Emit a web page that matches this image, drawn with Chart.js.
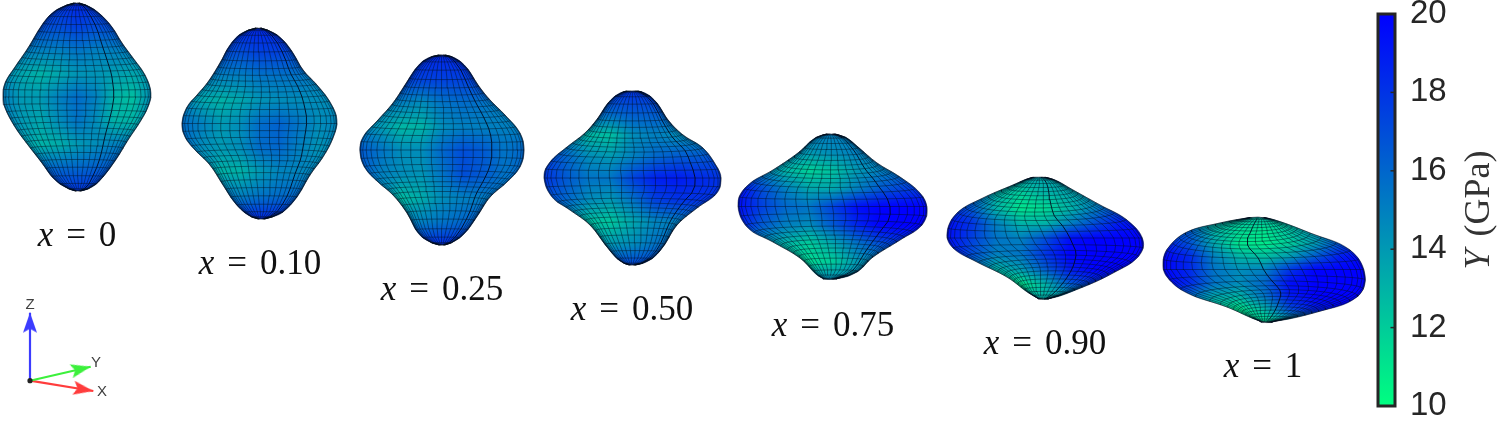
<!DOCTYPE html>
<html><head><meta charset="utf-8">
<style>html,body{margin:0;padding:0;background:#fff;overflow:hidden}
canvas{position:absolute;top:0}</style>
<script src="https://cdn.jsdelivr.net/npm/chart.js@4/dist/chart.umd.min.js"></script>
</head><body>
<canvas id="main" width="1370" height="422" style="left:0;width:1370px;height:422px"></canvas>
<canvas id="bar" width="129" height="422" style="left:1370px;width:129px;height:422px"></canvas>
<script>
const compositions = ['0','0.10','0.25','0.50','0.75','0.90','1'];
const labelCenterX = [77,260,442,632,833,1045,1263];
const labelBaseY = [246,274,300,320,336,354,377];
const colorTicks = [10,12,14,16,18,20];

const outline0=[[76,3],[88,6],[100,14],[112,27],[122,43],[133,58],[145,75],[151,93],[148,107],[140,122],[128,140],[117,158],[103,177],[92,187],[78,191],[65,187],[53,178],[42,163],[28,145],[15,127],[5,108],[3,97],[5,83],[15,67],[28,48],[40,28],[50,15],[62,7]];
const outline1=[[258,28],[272,32],[283,40],[293,53],[303,70],[317,85],[330,102],[337,120],[333,138],[323,157],[310,175],[297,197],[283,212],[272,217],[260,219],[248,215],[235,203],[223,185],[210,165],[195,150],[185,137],[182,123],[187,107],[197,95],[208,82],[220,63],[230,45],[242,33]];
const outline2=[[442,55],[455,58],[467,68],[478,85],[490,100],[505,115],[520,133],[524,150],[520,167],[507,182],[490,197],[478,215],[465,233],[453,242],[442,245],[430,242],[418,233],[407,213],[393,195],[378,182],[365,168],[360,152],[363,137],[378,120],[393,103],[405,85],[417,67],[428,58]];
const outline3=[[632,91],[645,93],[657,103],[668,120],[683,135],[703,148],[717,167],[721,178],[717,193],[697,208],[677,225],[663,247],[650,260],[633,265],[620,261],[607,247],[590,225],[570,210],[552,197],[544,177],[550,162],[567,147],[585,133],[598,118],[608,103],[620,93]];
const outline4=[[830,134],[845,137],[858,147],[877,163],[900,177],[920,193],[927,208],[922,225],[900,240],[873,257],[857,272],[835,279],[820,277],[800,258],[773,242],[747,227],[738,203],[748,185],[773,170],[798,153],[815,138]];
const outline5=[[1042,177],[1055,180],[1073,190],[1100,205],[1127,220],[1143,240],[1138,257],[1113,273],[1083,287],[1047,299],[1032,295],[1007,277],[977,262],[953,248],[947,233],[957,213],[983,198],[1013,185],[1030,178]];
const outline6=[[1258,217],[1275,220],[1310,233],[1350,250],[1365,275],[1357,297],[1317,312],[1270,322],[1257,320],[1227,307],[1187,293],[1167,277],[1163,263],[1168,248],[1187,232],[1220,223],[1247,218]];
const outlines=[outline0,outline1,outline2,outline3,outline4,outline5,outline6];

// Young's modulus (GPa) read across each surface, rows top to bottom, columns left to right
const modulus0=[[18,18,18,18,18.5,18,18,18,18],[17,17,17,17,17.5,17,17,17,17],[15,15,15,15,15.5,15,15,15,15],[14.5,13.5,13,13.5,14.2,14.2,13.8,13.5,14],[15,14,14,15,15.8,15,13,12.5,14.5],[15,14,13.5,14.5,15.5,14.5,13,13,14.5],[15,14,13,13.2,14,14.5,15,15,15],[16,16,16,16,16,16.3,16.5,16.5,16.5],[18,18,18,18,18,18,18,18,18]];
const modulus1=[[18.5,18.5,18.5,18.5,18.5,18.5,18.5,18.5,18.5],[17,17,17,17,17.5,17.5,17,17,17],[15,15,15,15,15.5,15.5,15.5,15,15],[15,13.5,13,13.5,14.2,14.5,14.5,14.5,14.5],[15.8,15,14,14.5,15.8,16.2,15.5,14.5,14.8],[15.8,14.5,14,14.5,15.8,16,15,14.2,14.8],[15,14.5,13,13,14,14.8,14.8,14.8,15],[16,16,15.5,15,15.5,15.8,16,16,16],[18.5,18.5,18.5,18.5,18.5,18.5,18.5,18.5,18.5]];
const modulus2=[[18.5,18.5,18.5,18.5,18.5,18.5,18.5,18.5,18.5],[17.5,17.5,17.5,17.5,17.5,17.5,17.5,17.5,17.5],[15,15,15,14.5,15.5,15.8,15.5,15,15],[15,14,12.8,13,14.5,15,15,15,15],[16.5,15.5,14.5,14.5,16,17,16.5,15.5,16],[16.5,15,14.5,14.2,15.5,17,16.5,15.5,16],[15.5,14.5,12.6,13.3,14.5,15,15.2,15.5,15.5],[16.5,16,15,15,15.5,16,16.5,16.5,16.5],[18.5,18.5,18.5,18.5,18.5,18.5,18.5,18.5,18.5]];
const modulus3=[[18,18,18,18,18,18,18,18,18],[16,16,16,16,16.5,16.5,16,16,16],[15.5,14.5,12.8,12.5,14.5,15,14.5,14.5,15],[17.5,16,14.5,14,15,16,16.5,16.5,17],[18,16.5,15.5,15.5,17.5,18.8,19,18.5,18],[17,16,14.5,14,15.5,17.5,18,18,18],[15,14,12.5,12.2,13.5,14.8,15,15.5,16],[15.5,15,14,14,14.5,15.5,16,16,16],[17.5,17.5,17.5,17.5,17.5,17.5,17.5,17.5,17.5]];
const modulus4=[[15,15,15,15,15,15,15,15,15],[15,15,14.5,14,14.5,15,15,15,15],[18,15,13,11.8,12.5,14,15,15.5,16],[19.5,17,15,13.5,13.5,15,16.5,17.5,18],[19.5,17.5,16,15.5,17.5,19.5,20,20,20],[19,16.5,15,14.5,16.5,18.5,20,20,20],[16,14.5,13,12,13.5,15.5,17,18,18],[15,14,12.5,11.5,12,14,15,15.5,16],[14.5,14.5,14.5,14.5,14.5,14.5,14.5,14.5,14.5]];
const modulus5=[[13.5,13.5,13.5,13.5,13.5,13.5,13.5,13.5,13.5],[16,16,13,12,13,13.5,14,15,16],[18.5,16.5,13,11,11.5,13,15,17,18],[19.5,18,15,13,13,15,17,19,19.5],[19.5,17.5,15.5,15,17,19.5,20,20,20],[19.5,17,15,15.5,18,20,20,20,20],[18,15.5,13,14,16.5,19,20,20,20],[15,14,11.5,10.8,13,16.5,18,18,18],[13,13,13,13,13,13,13,13,13]];
const modulus6=[[12.5,12.5,12.5,12.5,12.5,12.5,12.5,12.5,12.5],[16,16.5,13,11.5,11,12.5,14,15.5,17],[19,17,13.5,11,10.8,12,14,17,19],[20,18.5,15,13,12.5,14,16.5,19,20],[20,18.5,15.5,14.5,15,18,20,20,20],[20,18.5,15.5,14.5,16,19.5,20,20,20],[19,16,13.5,13,15.5,19,20,20,20],[15,14,12,10.8,13,17,19,20,20],[12,12,12,10.8,11,13,15,17,17]];
const moduli=[modulus0,modulus1,modulus2,modulus3,modulus4,modulus5,modulus6];

const seamLongitude=[30,37.5,37.5,45,37.5,15,0];
const meshBend=[0.05,0.05,0.06,0.08,0.12,0.16,0.20];
const latitudes=[]; for(let d=-90;d<=90;d+=6) latitudes.push(d);
const longitudes=[]; for(let d=-90;d<=90;d+=7.5) longitudes.push(d);

const axisOrigin=[30,380.7];
const axisTipZ=[30,312.7], axisTipY=[90.7,366.7], axisTipX=[93.3,391];
const axisNames=[['Z',30,305],['Y',96,363],['X',102,392]];

// MATLAB "winter", reversed along the colour bar
function colorOf(v){const t=Math.max(0,Math.min(1,(v-10)/10));return [0,Math.round(255*(1-t)),Math.round(128+127*t)];}

function smoothRing(pts){const n=pts.length,out=[];
  for(let i=0;i<n;i++){const a=pts[(i-1+n)%n],b=pts[i],c=pts[(i+1)%n],d=pts[(i+2)%n];
    for(let k=0;k<6;k++){const t=k/6,t2=t*t,t3=t2*t;
      out.push([0,1].map(j=>0.5*(2*b[j]+(c[j]-a[j])*t+(2*a[j]-5*b[j]+4*c[j]-d[j])*t2+(3*b[j]-a[j]-3*c[j]+d[j])*t3)));}}
  return out;}
function frameOf(pts){const xs=pts.map(p=>p[0]),ys=pts.map(p=>p[1]);
  return {x0:Math.min(...xs),x1:Math.max(...xs),y0:Math.min(...ys),y1:Math.max(...ys)};}
function rayHit(ring,cx,cy,a){const dx=Math.cos(a),dy=-Math.sin(a);let best=0;
  for(let i=0;i<ring.length;i++){const p=ring[i],q=ring[(i+1)%ring.length];
    const ex=q[0]-p[0],ey=q[1]-p[1],den=dx*ey-dy*ex;if(Math.abs(den)<1e-9)continue;
    const t=((p[0]-cx)*ey-(p[1]-cy)*ex)/den,u=((p[0]-cx)*dy-(p[1]-cy)*dx)/den;
    if(t>0&&u>=0&&u<=1&&t>best)best=t;}
  return best;}
function spanAt(ring,y){let lo=Infinity,hi=-Infinity;
  for(let i=0;i<ring.length;i++){const p=ring[i],q=ring[(i+1)%ring.length];
    if((p[1]-y)*(q[1]-y)<=0&&p[1]!==q[1]){const x=p[0]+(q[0]-p[0])*(y-p[1])/(q[1]-p[1]);if(x<lo)lo=x;if(x>hi)hi=x;}}
  return lo===Infinity?null:[lo,hi];}
function meshLines(i){
  const ring=smoothRing(outlines[i]),f=frameOf(outlines[i]);
  const cx=(f.x0+f.x1)/2,cy=(f.y0+f.y1)/2,k=meshBend[i];
  const halfW=(f.x1-f.x0)/2,halfH=(f.y1-f.y0)/2;
  const at=(latD,lonD)=>{const th=latD*Math.PI/180,ph=lonD*Math.PI/180;
    const rad=(rayHit(ring,cx,cy,th)+rayHit(ring,cx,cy,Math.PI-th))/2;
    const y0=cy-rad*Math.sin(th);
    const y=cy-rad*Math.sin(th)*(1-k*Math.cos(ph)*Math.cos(th)*Math.cos(th)*2.2);
    const s=spanAt(ring,Math.max(f.y0+0.2,Math.min(f.y1-0.2,y0)))||[cx,cx];
    const hw=(s[1]-s[0])/2,sn=Math.sin(ph),w=sn*sn;
    const env=halfW*Math.sqrt(Math.max(0,1-Math.pow((y0-cy)/halfH,2)));
    const width=w*hw+(1-w)*(0.5*hw+0.5*env);
    const off=Math.max(-hw,Math.min(hw,sn*width));
    return {x:(s[0]+s[1])/2+off,y};};
  const lines=[];
  longitudes.forEach(lon=>lines.push({pts:latitudes.map(l=>at(l,lon)),seam:lon===seamLongitude[i]}));
  latitudes.slice(1,-1).forEach(l=>lines.push({pts:longitudes.map(lon=>at(l,lon)),seam:false}));
  return lines;}

let surfacePattern=null;
function surfaceFill(ctx){
  const chart=ctx.chart;
  if(!chart.chartArea) return 'rgba(0,0,0,0)';
  if(surfacePattern) return surfacePattern;
  const sx=chart.scales.x,sy=chart.scales.y;
  const off=document.createElement('canvas');off.width=chart.width;off.height=chart.height;
  const g=off.getContext('2d');const img=g.createImageData(off.width,off.height);
  outlines.forEach((o,b)=>{const f=frameOf(o),m=moduli[b];
    const px0=Math.floor(sx.getPixelForValue(f.x0))-2,px1=Math.ceil(sx.getPixelForValue(f.x1))+2;
    const py0=Math.floor(sy.getPixelForValue(f.y0))-2,py1=Math.ceil(sy.getPixelForValue(f.y1))+2;
    for(let py=Math.max(0,py0);py<=py1&&py<off.height;py++)for(let px=px0;px<=px1;px++){
      const u=Math.max(0,Math.min(.9999,(sx.getValueForPixel(px)-f.x0)/(f.x1-f.x0)))*(m[0].length-1);
      const v=Math.max(0,Math.min(.9999,(sy.getValueForPixel(py)-f.y0)/(f.y1-f.y0)))*(m.length-1);
      const iu=Math.floor(u),iv=Math.floor(v),fu=u-iu,fv=v-iv;
      const val=(m[iv][iu]*(1-fu)+m[iv][iu+1]*fu)*(1-fv)+(m[iv+1][iu]*(1-fu)+m[iv+1][iu+1]*fu)*fv;
      const c=colorOf(val),q=(py*off.width+px)*4;
      img.data[q]=c[0];img.data[q+1]=c[1];img.data[q+2]=c[2];img.data[q+3]=255;}
  });
  g.putImageData(img,0,0);
  surfacePattern=chart.ctx.createPattern(off,'no-repeat');
  return surfacePattern;}

function arrowImage(color){const c=document.createElement('canvas');c.width=44;c.height=20;
  const g=c.getContext('2d');g.fillStyle=color;g.beginPath();
  g.moveTo(22,10);g.lineTo(2,3);g.lineTo(6,10);g.lineTo(2,17);g.closePath();g.fill();return c;}
function arrowSet(tip,color){const ang=Math.atan2(tip[1]-axisOrigin[1],tip[0]-axisOrigin[0])*180/Math.PI;
  const img=arrowImage(color);
  return {data:[{x:axisOrigin[0],y:axisOrigin[1]},{x:tip[0],y:tip[1]}],borderColor:color,borderWidth:2.2,
    pointStyle:[false,img],pointRadius:[0,10],pointRotation:[0,ang],tension:0,fill:false,order:1};}

const datasets=[];
outlines.forEach((o,i)=>{
  datasets.push({data:o.concat([o[0]]).map(p=>({x:p[0],y:p[1]})),fill:'shape',backgroundColor:surfaceFill,
    borderColor:'rgba(0,0,0,0)',borderWidth:0,tension:0.4,pointRadius:0,order:3});
  meshLines(i).forEach(l=>datasets.push({data:l.pts,borderColor:l.seam?'rgba(0,10,30,0.9)':'rgba(0,15,30,0.66)',
    borderWidth:l.seam?1.0:0.7,tension:0,pointRadius:0,fill:false,order:2}));
  datasets.push({data:o.concat([o[0]]).map(p=>({x:p[0],y:p[1]})),fill:false,borderColor:'rgba(0,10,30,0.6)',
    borderWidth:0.8,tension:0.4,pointRadius:0,order:1});
});
datasets.push(arrowSet(axisTipZ,'#3c3cff'));
datasets.push(arrowSet(axisTipY,'#3cf03c'));
datasets.push(arrowSet(axisTipX,'#ff3c3c'));
datasets.push({data:[{x:axisOrigin[0],y:axisOrigin[1]}],pointRadius:2.6,pointBackgroundColor:'#222',pointBorderWidth:0,showLine:false,order:0});

const textPlugin={id:'texts',afterDatasetsDraw(chart){
  const c=chart.ctx,sx=chart.scales.x,sy=chart.scales.y;c.save();c.textBaseline='alphabetic';c.fillStyle='#111';
  const size=35;
  compositions.forEach((val,i)=>{
    const ital=size+'px "Liberation Serif"',reg=ital,itx='italic '+ital;
    c.font=itx;const w1=c.measureText('x').width;
    c.font=reg;const w2=c.measureText('=').width,w3=c.measureText(val).width,gap=size*0.37;
    const tot=w1+w2+w3+2*gap;let x=sx.getPixelForValue(labelCenterX[i])-tot/2;const y=sy.getPixelForValue(labelBaseY[i]);
    c.textAlign='left';c.font=itx;c.fillText('x',x,y);x+=w1+gap;
    c.font=reg;c.fillText('=',x,y);x+=w2+gap;c.fillText(val,x,y);});
  c.font='15px "Liberation Sans"';c.fillStyle='#404040';c.textAlign='center';c.textBaseline='middle';
  axisNames.forEach(n=>c.fillText(n[0],sx.getPixelForValue(n[1]),sy.getPixelForValue(n[2])));
  c.restore();}};

new Chart(document.getElementById('main'),{type:'line',data:{datasets},plugins:[textPlugin],
  options:{responsive:false,animation:false,events:[],layout:{padding:0,autoPadding:false},
    plugins:{legend:{display:false},tooltip:{enabled:false}},
    elements:{line:{capBezierPoints:false}},
    scales:{x:{type:'linear',min:0,max:1370,display:false},y:{type:'linear',min:0,max:422,reverse:true,display:false}}}});

const barPlugin={id:'barFrame',afterDatasetsDraw(chart){
  const c=chart.ctx,a=chart.chartArea,sy=chart.scales.y;c.save();
  c.strokeStyle='#262626';c.lineWidth=3;c.strokeRect(a.left,a.top,a.right-a.left,a.bottom-a.top);
  c.lineWidth=1.5;colorTicks.slice(1,-1).forEach(t=>{const y=sy.getPixelForValue(t);
    c.beginPath();c.moveTo(a.right-4.5,y);c.lineTo(a.right,y);c.stroke();});
  c.fillStyle='#333';c.textBaseline='alphabetic';c.textAlign='left';
  c.translate(119,210);c.rotate(-Math.PI/2);
  const size=36,reg=size+'px "Liberation Serif"',itx='italic '+reg;
  c.font=itx;const w1=c.measureText('Y').width;c.font=reg;const w2=c.measureText('(GPa)').width,gap=size*0.36;
  const x=-(w1+gap+w2)/2;c.font=itx;c.fillText('Y',x,0);c.font=reg;c.fillText('(GPa)',x+w1+gap,0);
  c.restore();}};

new Chart(document.getElementById('bar'),{type:'bar',
  data:{labels:['Y'],datasets:[{data:[[colorTicks[0],colorTicks[colorTicks.length-1]]],barPercentage:1,categoryPercentage:1,
    backgroundColor(ctx){const ch=ctx.chart,s=ch.scales.y;if(!ch.chartArea)return '#000';
      const g=ch.ctx.createLinearGradient(0,s.getPixelForValue(10),0,s.getPixelForValue(20));
      g.addColorStop(0,'rgb(0,255,128)');g.addColorStop(1,'rgb(0,0,255)');return g;}}]},
  plugins:[barPlugin],
  options:{responsive:false,animation:false,events:[],layout:{padding:{left:8,top:14,bottom:16,right:0}},
    plugins:{legend:{display:false},tooltip:{enabled:false}},
    scales:{x:{display:false},
      y:{position:'right',min:10,max:20,afterFit(s){s.width=104;s.paddingTop=0;s.paddingBottom=0;},
        afterBuildTicks(s){s.ticks=colorTicks.map(v=>({value:v}));},
        border:{display:false},grid:{display:false,drawTicks:false},
        ticks:{padding:15,color:'#262626',font:{family:'"Liberation Sans"',size:33}}}}}});
</script></body></html>
